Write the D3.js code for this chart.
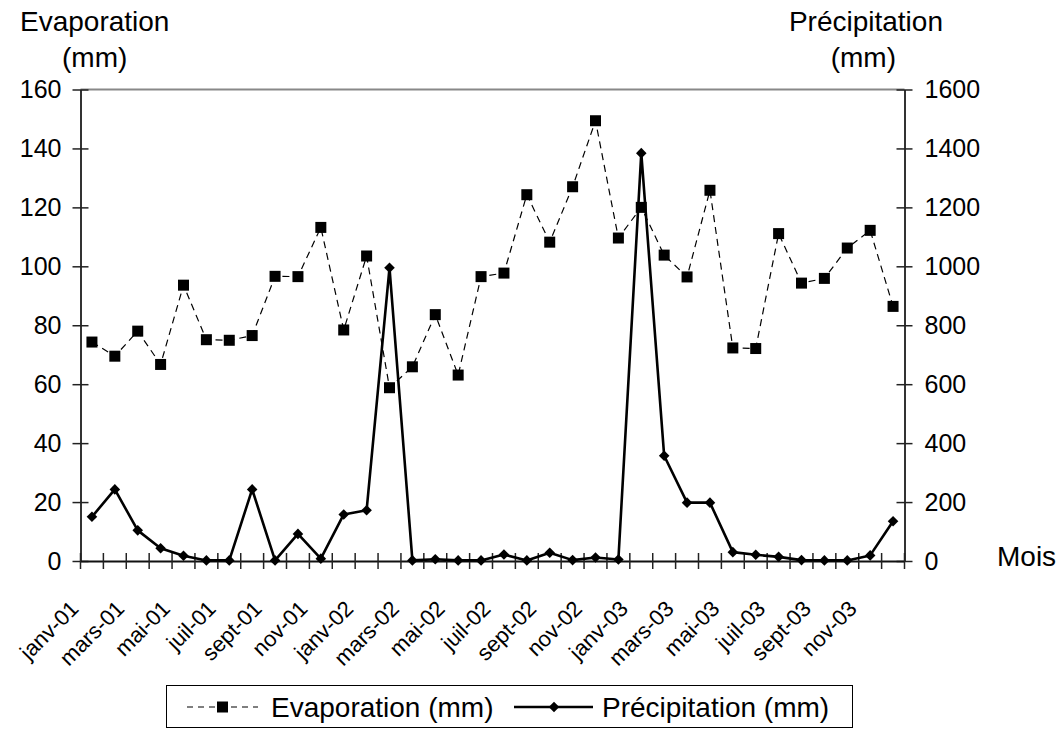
<!DOCTYPE html>
<html>
<head>
<meta charset="utf-8">
<script src="https://cdn.jsdelivr.net/npm/d3@7"></script>
<style>
  body { margin: 0; background: #fff; }
  svg { display: block; font-family: "Liberation Sans", Arial, sans-serif; }
</style>
</head>
<body>
<svg id="viz" width="1062" height="729"></svg>
<script>
// monthly categories, jan 2001 -> dec 2003
const monthNames = ["janv", "févr", "mars", "avr", "mai", "juin", "juil", "août", "sept", "oct", "nov", "déc"];
const years = ["01", "02", "03"];
const months = years.flatMap((y) => monthNames.map((m) => `${m}-${y}`));

// evaporation (mm), left axis
const evaporation = [
  74.3, 69.5, 78.0, 66.7, 93.6, 75.1, 74.9, 76.5, 96.6, 96.5, 113.2, 78.4,
  103.5, 58.8, 65.9, 83.6, 63.1, 96.5, 97.7, 124.3, 108.2, 127.0, 149.4, 109.6,
  120.0, 103.8, 96.4, 125.8, 72.3, 72.1, 111.1, 94.3, 95.9, 106.2, 112.2, 86.4,
];

// precipitation (mm), right axis
const precipitation = [
  150, 243, 104, 43, 18, 2, 2, 243, 2, 92, 8, 158,
  172, 995, 2, 6, 2, 2, 22, 2, 28, 3, 12, 5,
  1384, 357, 198, 198, 30, 21, 14, 3, 2, 2, 19, 135,
];

const evapTicks = [0, 20, 40, 60, 80, 100, 120, 140, 160];
const precTicks = [0, 200, 400, 600, 800, 1000, 1200, 1400, 1600];

const svg = d3.select("#viz");
const plotL = 80.5, plotR = 904.5, plotT = 89.5, plotB = 561;
const FONT = "Liberation Sans, Arial, sans-serif";
const FS_TITLE = "28px";   // axis titles, legend, "Mois"
const FS_TICK = "25px";    // y tick labels
const FS_CAT = "22px";     // rotated month labels

const x = d3.scaleBand().domain(months).range([plotL, plotR]).padding(0);
const yL = d3.scaleLinear().domain([0, 160]).range([plotB, plotT]);
const yR = d3.scaleLinear().domain([0, 1600]).range([plotB, plotT]);
const cx = (d) => x(d) + x.bandwidth() / 2;

// top border of plot area (grey)
svg.append("line")
  .attr("x1", plotL).attr("x2", plotR)
  .attr("y1", plotT).attr("y2", plotT)
  .attr("stroke", "#888").attr("stroke-width", 2);

// left axis
const gL = svg.append("g")
  .attr("transform", `translate(${plotL},0)`)
  .call(d3.axisLeft(yL).tickValues(evapTicks).tickSize(0).tickPadding(19));
gL.select(".domain").attr("stroke", "#333").attr("stroke-width", 2);
gL.selectAll(".tick line").attr("x1", -8).attr("x2", 8).attr("stroke", "#222").attr("stroke-width", 1.5);
gL.selectAll(".tick text").attr("font-size", FS_TICK).attr("fill", "#000").attr("font-family", FONT);

// right axis
const gR = svg.append("g")
  .attr("transform", `translate(${plotR},0)`)
  .call(d3.axisRight(yR).tickValues(precTicks).tickFormat(d3.format("d")).tickSize(0).tickPadding(20));
gR.select(".domain").attr("stroke", "#333").attr("stroke-width", 2);
gR.selectAll(".tick line").attr("x1", -8).attr("x2", 8).attr("stroke", "#222").attr("stroke-width", 1.5);
gR.selectAll(".tick text").attr("font-size", FS_TICK).attr("fill", "#000").attr("font-family", FONT);

// bottom axis: labels every second month, rotated
const shown = months.filter((d, i) => i % 2 === 0);
const gB = svg.append("g")
  .attr("transform", `translate(0,${plotB})`)
  .call(d3.axisBottom(x).tickValues(shown).tickSize(0).tickPadding(0));
gB.select(".domain").attr("stroke", "#111").attr("stroke-width", 2);
gB.selectAll(".tick text")
  .attr("font-size", FS_CAT).attr("fill", "#000").attr("font-family", FONT)
  .attr("text-anchor", "end")
  .attr("dy", null)
  .attr("transform", "translate(-12,49) rotate(-45)");

// category boundary ticks crossing the x axis
svg.append("g")
  .selectAll("line")
  .data(months.concat(["__end"]))
  .join("line")
  .attr("x1", (d) => (d === "__end" ? plotR : x(d)))
  .attr("x2", (d) => (d === "__end" ? plotR : x(d)))
  .attr("y1", plotB - 8).attr("y2", plotB + 8)
  .attr("stroke", "#222").attr("stroke-width", 1.5);

// evaporation: dashed line + squares
const evapLine = d3.line().x((d, i) => cx(months[i])).y((d) => yL(d));
svg.append("path")
  .datum(evaporation)
  .attr("d", evapLine)
  .attr("fill", "none").attr("stroke", "#000")
  .attr("stroke-width", 1.2).attr("stroke-dasharray", "7,5");
svg.append("g")
  .selectAll("rect")
  .data(evaporation)
  .join("rect")
  .attr("x", (d, i) => cx(months[i]) - 5.5)
  .attr("y", (d) => yL(d) - 5.5)
  .attr("width", 11).attr("height", 11)
  .attr("fill", "#000");

// precipitation: solid line + diamonds
const precLine = d3.line().x((d, i) => cx(months[i])).y((d) => yR(d));
svg.append("path")
  .datum(precipitation)
  .attr("d", precLine)
  .attr("fill", "none").attr("stroke", "#000")
  .attr("stroke-width", 2.6).attr("stroke-linejoin", "round");
const diamond = d3.symbol().type(d3.symbolSquare).size(56);
svg.append("g")
  .selectAll("path")
  .data(precipitation)
  .join("path")
  .attr("d", diamond)
  .attr("transform", (d, i) => `translate(${cx(months[i])},${yR(d)}) rotate(45)`)
  .attr("fill", "#000");

// axis titles
const txt = (x0, y0, s, anchor) =>
  svg.append("text").attr("x", x0).attr("y", y0).attr("font-size", FS_TITLE)
    .attr("text-anchor", anchor || "start").attr("fill", "#000").text(s);
txt(20, 31, "Evaporation");
txt(62, 67, "(mm)");
txt(943, 31, "Précipitation", "end");
txt(896, 67, "(mm)", "end");
txt(997, 566, "Mois");

// legend
const lg = svg.append("g");
lg.append("rect")
  .attr("x", 166.5).attr("y", 685.5).attr("width", 686).attr("height", 42)
  .attr("fill", "#fff").attr("stroke", "#000").attr("stroke-width", 1);
lg.append("line")
  .attr("x1", 187).attr("x2", 258).attr("y1", 707).attr("y2", 707)
  .attr("stroke", "#000").attr("stroke-width", 1.2).attr("stroke-dasharray", "6,5");
lg.append("rect").attr("x", 217).attr("y", 701.5).attr("width", 11).attr("height", 11).attr("fill", "#000");
lg.append("text").attr("x", 271).attr("y", 717).attr("font-size", FS_TITLE).text("Evaporation (mm)");
lg.append("line")
  .attr("x1", 514).attr("x2", 593).attr("y1", 707).attr("y2", 707)
  .attr("stroke", "#000").attr("stroke-width", 2.6);
lg.append("path").attr("d", diamond).attr("transform", "translate(554,707) rotate(45)").attr("fill", "#000");
lg.append("text").attr("x", 602).attr("y", 717).attr("font-size", FS_TITLE).text("Précipitation (mm)");
</script>
</body>
</html>
